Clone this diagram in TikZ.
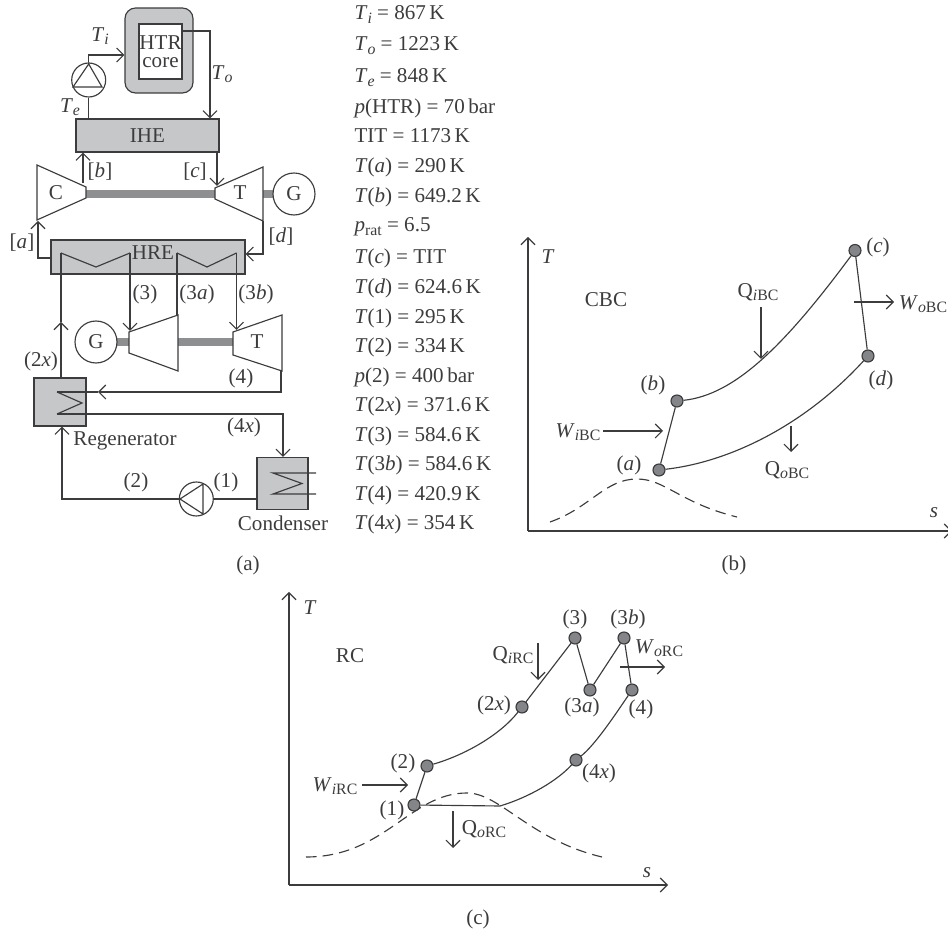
\documentclass[tikz,border=0pt]{standalone}
\usepackage{fontspec}
\setmainfont{Liberation Serif}
\usetikzlibrary{arrows.meta}
\definecolor{ink}{HTML}{3C3C3E}
\definecolor{boxgray}{HTML}{C6C7C9}
\definecolor{shaftgray}{HTML}{8E8F91}
\definecolor{dotgray}{HTML}{838588}
\newcommand{\low}[1]{\raisebox{-0.35ex}{\fontsize{9}{9}\selectfont #1}}
\newcommand{\vsub}[2]{\textit{#1}\low{#2}}
\begin{document}
\begin{tikzpicture}[x=0.02cm, y=-0.02cm, font=\fontsize{12}{14}\selectfont, text=ink, line width=0.65pt,
		every node/.style={inner sep=0pt},
		flow/.style={draw=ink, -{Straight Barb[length=4pt, width=8pt]}},
		pipe/.style={draw=ink},
		unit/.style={draw=ink, fill=boxgray, rectangle},
		round/.style={draw=ink, fill=white, circle},
		shaft/.style={draw=shaftgray, line width=4pt},
		state/.style={draw=ink, fill=dotgray, circle, minimum size=0.24cm},
		val/.style={anchor=base west},
		dome/.style={draw=ink, dash pattern=on 6pt off 3.5pt}]
	\useasboundingbox (0,0) rectangle (948,932);

	% plant, reactor loop
	\node[draw=ink, fill=boxgray, rounded corners=6pt, minimum width=1.36cm, minimum height=1.7cm] (htr) at (159,50.5) {};
	\node[draw=ink, fill=white, minimum width=0.86cm, minimum height=1.1cm, align=center, font=\fontsize{12}{10.5}\selectfont] (core) at (160.5,51.5) {HTR\\core};
	\node[round, minimum size=0.68cm] (pumpHe) at (88.7,80) {};
	\node[unit, minimum width=2.86cm, minimum height=0.66cm] (ihe) at (147.5,135.5) {IHE};
	\node[unit, minimum width=3.88cm, minimum height=0.68cm] (hre) at (148,257) {};
	\node at (153,253) (hreText) {HRE};
	\draw[pipe] (pumpHe.north) -- (88.7,64) -- (73,87) -- (102,87) -- (88.7,64);
	\coordinate (coreOut) at (182,31);
	\coordinate (iheIn) at (210,118.5);
	\draw[flow] (pumpHe.north) |- (htr.west |- 0,55);
	\draw[pipe] (ihe.north -| pumpHe.south) -- (pumpHe.south);
	\draw[flow] (coreOut) -| (iheIn);
	\node (lTi) at (100,36) {\vsub{T}{\textit{i}}};
	\node (lTo) at (222,74) {\vsub{T}{\textit{o}}};
	\node (lTe) at (70,107) {\vsub{T}{\textit{e}}};

	% brayton turbomachinery
	\draw[shaft] (86,194) -- (215,194);
	\draw[shaft] (263,194) -- (273,194);
	\coordinate (C1) at (37,165);
	\coordinate (C2) at (86,187);
	\coordinate (C3) at (86,198);
	\coordinate (C4) at (37,220);
	\coordinate (T1) at (215,188);
	\coordinate (T2) at (263,167);
	\coordinate (T3) at (263,221);
	\coordinate (T4) at (215,199);
	\draw[pipe, fill=white] (C1)--(C2)--(C3)--(C4)--cycle;
	\draw[pipe, fill=white] (T1)--(T2)--(T3)--(T4)--cycle;
	\node (cText) at (56,193) {C};
	\node (tText) at (240,193) {T};
	\node[round, minimum size=0.84cm] (genB) at (294,194) {G};
	\coordinate (bOut) at (83,183);
	\coordinate (cIn) at (217,186);
	\coordinate (aIn) at (38,221);
	\coordinate (dOut) at (263,221);
	\draw[flow] (bOut) -- (ihe.south -| bOut);
	\draw[flow] (ihe.south -| cIn) -- (cIn);
	\draw[flow] (hre.west |- 0,258) -| (aIn);
	\draw[flow] (dOut) |- (hre.east |- 0,254);
	\node (la) at (22,243) {[\textit{a}]};
	\node (lb) at (100,172) {[\textit{b}]};
	\node (lc) at (195,172) {[\textit{c}]};
	\node (ld) at (281,237) {[\textit{d}]};

	% heat exchanger coils
	\coordinate (z1) at (61,253);
	\coordinate (z2) at (130,253);
	\coordinate (z3) at (177,253);
	\coordinate (z4) at (236.5,253);
	\draw[pipe] (z1) -- (96,267) -- (z2);
	\draw[pipe] (z3) -- (207,267) -- (z4);

	% rankine turbomachinery
	\draw[shaft] (117,342) -- (129,342);
	\draw[shaft] (178,342) -- (233,342);
	\coordinate (H1) at (129,332);
	\coordinate (H2) at (178,315);
	\coordinate (H3) at (178,371);
	\coordinate (H4) at (129,353);
	\coordinate (L1) at (233,332);
	\coordinate (L2) at (282,315);
	\coordinate (L3) at (282,371);
	\coordinate (L4) at (233,355);
	\draw[pipe, fill=white] (H1)--(H2)--(H3)--(H4)--cycle;
	\draw[pipe, fill=white] (L1)--(L2)--(L3)--(L4)--cycle;
	\node (tLow) at (257,342) {T};
	\node[round, minimum size=0.84cm] (genR) at (96,342) {G};
	\draw[flow] (z2) -- (130,331);
	\draw[pipe] (z3) -- (H2 -| z3);
	\draw[flow] (z4) -- (236.5,330);
	\node (l3) at (145,294) {(3)};
	\node (l3a) at (197,294) {(3\textit{a})};
	\node (l3b) at (256,294) {(3\textit{b})};

	% regenerator and condenser
	\node[unit, minimum width=1.04cm, minimum height=0.96cm] (regen) at (60,402) {};
	\node[unit, minimum width=1.02cm, minimum height=1.04cm] (cond) at (282.5,483.5) {};
	\node[round, minimum size=0.68cm] (pumpW) at (196.3,499) {};
	\draw[pipe] (180,499) -- (203,484) -- (203,514) -- cycle;
	\coordinate (r1) at (57,392);
	\coordinate (r2) at (82,403);
	\coordinate (r3) at (57,414);
	\coordinate (rIn) at (98,392);
	\coordinate (c1) at (316,473);
	\coordinate (c2) at (273,473);
	\coordinate (c3) at (302,483.5);
	\coordinate (c4) at (273,494);
	\coordinate (c5) at (316,494);
	\draw[pipe] (r1) -- (r2) -- (r3);
	\draw[pipe] (r1) -- (rIn);
	\draw[pipe] (r3) -- (97,414);
	\draw[pipe] (c1) -- (c2) -- (c3) -- (c4) -- (c5);
	\draw[flow] (281,371) |- (rIn);
	\draw[flow] (97,414) -| (283,457);
	\draw[flow] (regen.north -| z1) -- (61,322);
	\draw[pipe] (61,322) -- (z1);
	\draw[flow] (pumpW.west) -| (regen.south -| 62,0);
	\draw[pipe] (cond.west |- pumpW) -- (pumpW.east);
	\node (regText) at (125,441) {Regenerator};
	\node (condText) at (283,523) {Condenser};
	\node (l2x) at (41,361) {(2\textit{x})};
	\node (l4) at (241,378) {(4)};
	\node (l4x) at (244,427) {(4\textit{x})};
	\node (l2) at (136,482) {(2)};
	\node (l1) at (226,482) {(1)};
	\node (capA) at (248,565) {(a)};

	% values
	\node[val] (v1) at (354,20) {\vsub{T}{\textit{i}} = 867\,K};
	\node[val] (v2) at (354,51) {\vsub{T}{\textit{o}} = 1223\,K};
	\node[val] (v3) at (354,83) {\vsub{T}{\textit{e}} = 848\,K};
	\node[val] (v4) at (354,114) {\textit{p}(HTR) = 70\,bar};
	\node[val] (v5) at (354,143) {TIT = 1173\,K};
	\node[val] (v6) at (354,173) {\textit{T}(\textit{a}) = 290\,K};
	\node[val] (v7) at (354,203) {\textit{T}(\textit{b}) = 649.2\,K};
	\node[val] (v8) at (354,232) {\vsub{p}{rat} = 6.5};
	\node[val] (v9) at (354,264) {\textit{T}(\textit{c}) = TIT};
	\node[val] (v10) at (354,294) {\textit{T}(\textit{d}) = 624.6\,K};
	\node[val] (v11) at (354,324) {\textit{T}(1) = 295\,K};
	\node[val] (v12) at (354,353) {\textit{T}(2) = 334\,K};
	\node[val] (v13) at (354,383) {\textit{p}(2) = 400\,bar};
	\node[val] (v14) at (354,412) {\textit{T}(2\textit{x}) = 371.6\,K};
	\node[val] (v15) at (354,442) {\textit{T}(3) = 584.6\,K};
	\node[val] (v16) at (354,471) {\textit{T}(3\textit{b}) = 584.6\,K};
	\node[val] (v17) at (354,501) {\textit{T}(4) = 420.9\,K};
	\node[val] (v18) at (354,530) {\textit{T}(4\textit{x}) = 354\,K};

	% CBC diagram
	\coordinate (O1) at (528,531);
	\draw[flow] (O1) -- (528,237);
	\draw[flow] (O1) -- (952,531);
	\node (bT) at (548,257) {\textit{T}};
	\node (bs) at (934,513) {\textit{s}};
	\node (bName) at (606,300) {CBC};
	\draw[dome] (550,522) .. controls (590,508) and (605,479) .. (637,479) .. controls (665,479) and (680,503) .. (737,517);
	\node[state] (a) at (659,470) {};
	\node[state] (b) at (677,401) {};
	\node[state] (c) at (855,250.5) {};
	\node[state] (d) at (868,356) {};
	\draw[pipe] (a) -- (b);
	\draw[pipe] (c) -- (d);
	\draw[pipe] (b) .. controls (735,395) and (785,345) .. (c);
	\draw[pipe] (a) .. controls (730,462) and (805,425) .. (d);
	\coordinate (wiS) at (603,431);
	\coordinate (wiE) at (663,431);
	\coordinate (qiS) at (761,307);
	\coordinate (qiE) at (761,359);
	\coordinate (woS) at (854,302);
	\coordinate (woE) at (894,302);
	\coordinate (qoS) at (791,426);
	\coordinate (qoE) at (791,452);
	\draw[flow] (wiS) -- (wiE);
	\draw[flow] (qiS) -- (qiE);
	\draw[flow] (woS) -- (woE);
	\draw[flow] (qoS) -- (qoE);
	\node (lwi) at (578,432) {\vsub{W}{\textit{i}BC}};
	\node (lqi) at (758,292) {Q\low{\textit{i}BC}};
	\node (lwo) at (923,304) {\vsub{W}{\textit{o}BC}};
	\node (lqo) at (787,470) {Q\low{\textit{o}BC}};
	\node (lpa) at (629,465) {(\textit{a})};
	\node (lpb) at (653,385) {(\textit{b})};
	\node (lpc) at (878,247) {(\textit{c})};
	\node (lpd) at (881,380) {(\textit{d})};
	\node (capB) at (734,565) {(b)};

	% RC diagram
	\coordinate (O2) at (289,885);
	\draw[flow] (O2) -- (289,592);
	\draw[flow] (O2) -- (668,885);
	\node (cT) at (310,608) {\textit{T}};
	\node (cs) at (647,873) {\textit{s}};
	\node (cName) at (350,656) {RC};
	\draw[dome] (306,857) .. controls (385,857) and (410,793) .. (467,793) .. controls (500,793) and (530,840) .. (602,857);
	\coordinate (sat) at (500,806);
	\node[state] (p1) at (414,805) {};
	\node[state] (p2) at (427,766) {};
	\node[state] (p2x) at (522,707) {};
	\node[state] (p3) at (575,638) {};
	\node[state] (p3a) at (590,690) {};
	\node[state] (p3b) at (624,638) {};
	\node[state] (p4) at (632,690) {};
	\node[state] (p4x) at (576,760) {};
	\draw[pipe] (p1) -- (p2);
	\draw[pipe] (p1) -- (sat);
	\draw[pipe] (p2) .. controls (465,755) and (500,735) .. (p2x);
	\draw[pipe] (p2x) -- (p3);
	\draw[pipe] (p3) -- (p3a);
	\draw[pipe] (p3a) -- (p3b);
	\draw[pipe] (p3b) -- (p4);
	\draw[pipe] (sat) .. controls (530,797) and (558,780) .. (p4x);
	\draw[pipe] (p4x) .. controls (595,745) and (615,715) .. (p4);
	\coordinate (wicS) at (362,785);
	\coordinate (wicE) at (408,785);
	\coordinate (qicS) at (538,643);
	\coordinate (qicE) at (538,680);
	\coordinate (wocS) at (620,667);
	\coordinate (wocE) at (665,667);
	\coordinate (qocS) at (453,811);
	\coordinate (qocE) at (453,848);
	\draw[flow] (wicS) -- (wicE);
	\draw[flow] (qicS) -- (qicE);
	\draw[flow] (wocS) -- (wocE);
	\draw[flow] (qocS) -- (qocE);
	\node (lwic) at (335,786) {\vsub{W}{\textit{i}RC}};
	\node (lqic) at (513,655) {Q\low{\textit{i}RC}};
	\node (lwoc) at (659,648) {\vsub{W}{\textit{o}RC}};
	\node (lqoc) at (484,829) {Q\low{\textit{o}RC}};
	\node (lp1) at (392,810) {(1)};
	\node (lp2) at (403,763) {(2)};
	\node (lp2x) at (494,705) {(2\textit{x})};
	\node (lp3) at (575,619) {(3)};
	\node (lp3b) at (628,619) {(3\textit{b})};
	\node (lp3a) at (582,707) {(3\textit{a})};
	\node (lp4) at (641,709) {(4)};
	\node (lp4x) at (599,773) {(4\textit{x})};
	\node (capC) at (478,919) {(c)};
\end{tikzpicture}
\end{document}
